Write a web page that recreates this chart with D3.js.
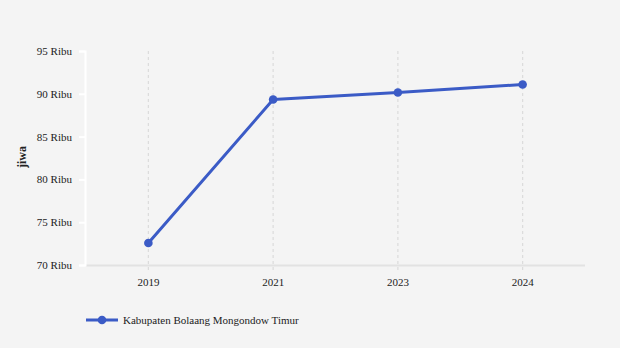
<!DOCTYPE html>
<html><head><meta charset="utf-8">
<script src="https://cdn.jsdelivr.net/npm/d3@7"></script>
<style>
body{margin:0;background:#f4f4f4;}
svg{display:block;}
text{font-family:"Liberation Serif","Times New Roman",serif;fill:#222;}
</style></head>
<body>
<script>
const categories = ["2019","2021","2023","2024"];
const values = [72570, 89330, 90150, 91090];
const seriesName = "Kabupaten Bolaang Mongondow Timur";
const yTicks = [70000,75000,80000,85000,90000,95000];
const yTickLabels = ["70 Ribu","75 Ribu","80 Ribu","85 Ribu","90 Ribu","95 Ribu"];
const yTitle = "jiwa";

const W=620,H=348;
const svg=d3.select("body").append("svg").attr("width",W).attr("height",H);
svg.append("rect").attr("width",W).attr("height",H).attr("fill","#f4f4f4");

const x=d3.scaleBand().domain(categories).range([86,585]).padding(0);
const y=d3.scaleLinear().domain([70000,95000]).range([265,51]);
const color="#3b5bc6";

// vertical dashed grid
svg.append("g").selectAll("line").data(categories).join("line")
  .attr("x1",d=>x(d)+x.bandwidth()/2).attr("x2",d=>x(d)+x.bandwidth()/2)
  .attr("y1",51).attr("y2",270)
  .attr("stroke","#dcdcdc").attr("stroke-width",1.2).attr("stroke-dasharray","3,3");

// x baseline
svg.append("line").attr("x1",86).attr("x2",585).attr("y1",265.5).attr("y2",265.5)
  .attr("stroke","#e2e2e2").attr("stroke-width",2);

// y axis
const yAxis=svg.append("g").attr("transform","translate(85,0)")
  .call(d3.axisLeft(y).tickValues(yTicks).tickFormat((d,i)=>yTickLabels[i]).tickSize(6).tickPadding(7));
yAxis.select(".domain").attr("stroke","#ffffff").attr("stroke-width",2);
yAxis.selectAll(".tick line").attr("stroke","#ffffff").attr("stroke-width",2);
yAxis.selectAll(".tick text").attr("font-family","Liberation Serif, serif").attr("font-size",11).attr("fill","#222");

// x axis labels
const xAxis=svg.append("g").attr("transform","translate(0,265)")
  .call(d3.axisBottom(x).tickSize(0).tickPadding(13));
xAxis.select(".domain").remove();
xAxis.selectAll(".tick text").attr("font-family","Liberation Serif, serif").attr("font-size",11).attr("fill","#222");

// y title
svg.append("text").attr("transform","translate(26,157) rotate(-90)")
  .attr("text-anchor","middle").attr("font-size",12).attr("font-weight","bold").text(yTitle);

// line
const line=d3.line().x((d,i)=>x(categories[i])+x.bandwidth()/2).y(d=>y(d));
svg.append("path").datum(values).attr("d",line).attr("fill","none")
  .attr("stroke",color).attr("stroke-width",3).attr("stroke-linejoin","round");
svg.append("g").selectAll("circle").data(values).join("circle")
  .attr("cx",(d,i)=>x(categories[i])+x.bandwidth()/2).attr("cy",d=>y(d)).attr("r",4.3).attr("fill",color);

// legend
const lg=svg.append("g");
lg.append("line").attr("x1",86).attr("x2",118).attr("y1",320).attr("y2",320).attr("stroke",color).attr("stroke-width",3);
lg.append("circle").attr("cx",102).attr("cy",320).attr("r",4.3).attr("fill",color);
lg.append("text").attr("x",123).attr("y",324).attr("font-size",11).text(seriesName);
</script>
</body></html>
